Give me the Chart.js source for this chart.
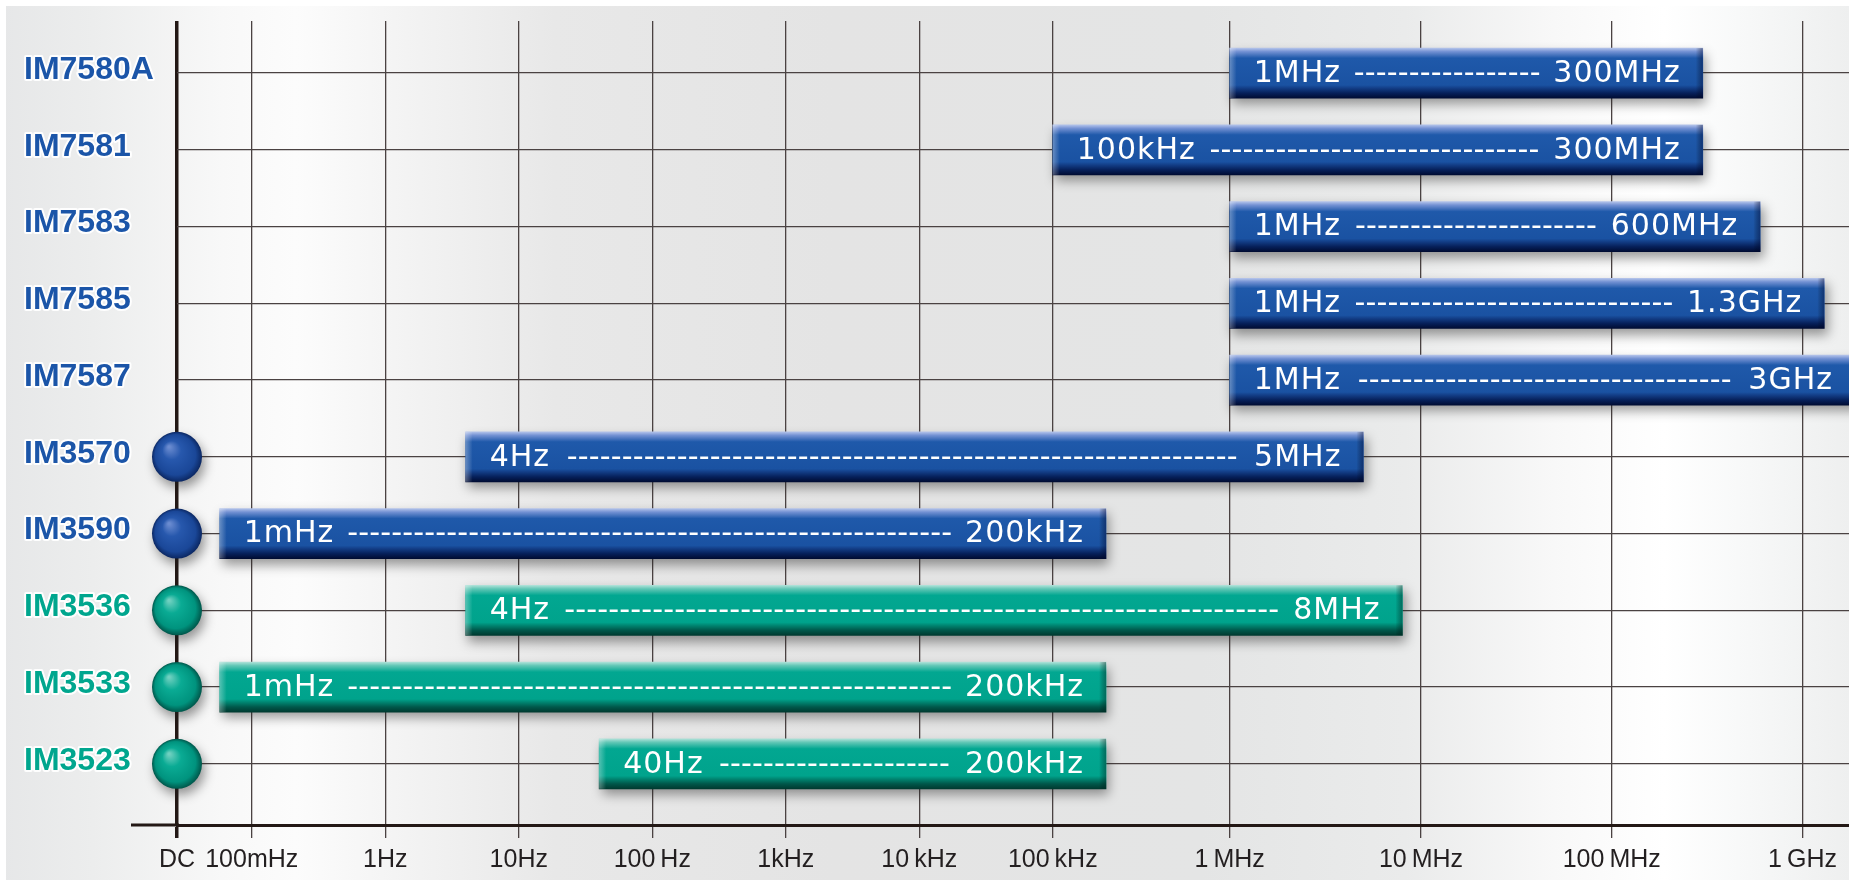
<!DOCTYPE html>
<html>
<head>
<meta charset="utf-8">
<title>Measurement frequency ranges</title>
<style>
  html, body { margin: 0; padding: 0; background: #ffffff; overflow: hidden; }
  #wrap { width: 1849px; height: 880px; }
  canvas { display: block; }
</style>
<script src="https://cdn.jsdelivr.net/npm/chart.js@4.4.1/dist/chart.umd.min.js"></script>
</head>
<body>
<div id="wrap"><canvas id="chart" width="1849" height="880"></canvas></div>
<script>
// ---- Instruments and their measurement frequency ranges ----
const models      = ['IM7580A', 'IM7581', 'IM7583', 'IM7585', 'IM7587', 'IM3570', 'IM3590', 'IM3536', 'IM3533', 'IM3523'];
const lowFreqHz   = [1e6, 1e5, 1e6, 1e6, 1e6, 4, 1e-3, 4, 1e-3, 40];
const highFreqHz  = [300e6, 300e6, 600e6, 1.3e9, 3e9, 5e6, 200e3, 8e6, 200e3, 200e3];
const lowLabels   = ['1MHz', '100kHz', '1MHz', '1MHz', '1MHz', '4Hz', '1mHz', '4Hz', '1mHz', '40Hz'];
const highLabels  = ['300MHz', '300MHz', '600MHz', '1.3GHz', '3GHz', '5MHz', '200kHz', '8MHz', '200kHz', '200kHz'];
const productLine = ['analyzer', 'analyzer', 'analyzer', 'analyzer', 'analyzer', 'analyzer', 'analyzer', 'lcr', 'lcr', 'lcr'];
const dcCapable   = [false, false, false, false, false, true, true, true, true, true];

// ---- Frequency axis ticks ----
const tickLabels  = ['DC', '100mHz', '1Hz', '10Hz', '100\u2009Hz', '1kHz', '10\u2009kHz', '100\u2009kHz', '1\u2009MHz', '10\u2009MHz', '100\u2009MHz', '1\u2009GHz'];
const tickFreqHz  = [0, 0.1, 1, 10, 100, 1e3, 1e4, 1e5, 1e6, 1e7, 1e8, 1e9];

// ---- Layout ----
const W = 1849, H = 880;
const PAD_LEFT = 24, PLOT_LEFT = 177, PLOT_TOP = 21, PLOT_BOTTOM = 825;
const AXIS_LINE_START = 131;
const BAR_THICKNESS = 50;
const DOT_RADIUS = 25;
const ROW_MIN = -0.679, ROW_MAX = 9.797;
const X_MAX = 12.524;
// Broken log axis: [frequency, axis position]; decades above 100 kHz are drawn wider,
// and everything below 100 mHz is squeezed next to DC.
const AXIS_ANCHORS = [
  [1e-3, 0.32], [0.1, 0.56], [1, 1.56], [10, 2.56], [100, 3.56], [1e3, 4.56],
  [1e4, 5.56], [1e5, 6.56], [1e6, 7.885], [1e7, 9.318], [1e8, 10.747], [1e9, 12.176]
];

const GRID_COLOR = '#4a4242';
const AXIS_COLOR = '#231815';
const LABEL_FONT = '400 30px "DejaVu Sans", Roboto, sans-serif';

const PALETTE = {
  analyzer: {
    text: '#1b55a8',
    base: '#1b55a6',
    stops: [[0, '#b3c3ea'], [0.07, '#7391d3'], [0.2, '#1f59aa'], [0.74, '#1a52a2'], [0.8, '#133e87'], [0.9, '#06205a'], [1, '#000c33']],
    dot: [[0, '#6a8bd0'], [0.35, '#2758ad'], [0.8, '#1a4798'], [1, '#0b2762']],
    edgeDark: 'rgba(0, 8, 50, 0.45)'
  },
  lcr: {
    text: '#00a68e',
    base: '#00a58f',
    stops: [[0, '#aee1d8'], [0.07, '#62c7b6'], [0.2, '#02a791'], [0.74, '#00a38c'], [0.8, '#008672'], [0.9, '#00574a'], [1, '#003a30']],
    dot: [[0, '#6fd0c0'], [0.35, '#0aab94'], [0.8, '#00937e'], [1, '#00564a']],
    edgeDark: 'rgba(0, 40, 32, 0.45)'
  }
};

function freqToAxis(f) {
  if (f <= 0) return 0;
  const lf = Math.log10(f);
  const a = AXIS_ANCHORS;
  let i = 0;
  while (i < a.length - 2 && lf > Math.log10(a[i + 1][0])) i++;
  const l0 = Math.log10(a[i][0]), l1 = Math.log10(a[i + 1][0]);
  return a[i][1] + (lf - l0) / (l1 - l0) * (a[i + 1][1] - a[i][1]);
}

function rowsOf(line) {
  return models.map((_, i) => i).filter(i => productLine[i] === line);
}

function barData(line) {
  return rowsOf(line).map(i => ({ y: i, x: [freqToAxis(lowFreqHz[i]), freqToAxis(highFreqHz[i])], row: i }));
}

function dcData() {
  return models.map((_, i) => i).filter(i => dcCapable[i]).map(i => ({ x: freqToAxis(0), y: i, row: i }));
}

function barFill(line) {
  return (c) => {
    const pal = PALETTE[line];
    if (c.type !== 'data' || !c.raw) return pal.base;
    const y = c.chart.scales.y.getPixelForValue(c.raw.y);
    if (!isFinite(y)) return pal.base;
    const g = c.chart.ctx.createLinearGradient(0, y - BAR_THICKNESS / 2, 0, y + BAR_THICKNESS / 2);
    pal.stops.forEach(([p, col]) => g.addColorStop(p, col));
    return g;
  };
}

function dotFill(c) {
  if (c.type !== 'data' || !c.raw) return PALETTE.analyzer.base;
  const pal = PALETTE[productLine[c.raw.row]];
  const cx = c.chart.scales.x.getPixelForValue(c.raw.x);
  const cy = c.chart.scales.y.getPixelForValue(c.raw.y);
  if (!isFinite(cx) || !isFinite(cy)) return pal.base;
  const g = c.chart.ctx.createRadialGradient(cx - 8, cy - 10, 1, cx, cy, DOT_RADIUS);
  pal.dot.forEach(([p, col]) => g.addColorStop(p, col));
  return g;
}

// Panel background with soft vertical light bands
const backgroundPlugin = {
  id: 'panelBackground',
  beforeDraw(chart) {
    const ctx = chart.ctx;
    ctx.save();
    ctx.fillStyle = '#ffffff';
    ctx.fillRect(0, 0, W, H);
    const g = ctx.createLinearGradient(0, 0, W, 0);
    [[0, '#e6e7e8'], [0.05, '#eceded'], [0.12, '#f8f8f8'], [0.16, '#fcfcfc'], [0.22, '#f3f3f3'],
     [0.3, '#e8e8e8'], [0.45, '#e4e4e4'], [0.65, '#e4e5e5'], [0.76, '#eaebeb'], [0.84, '#f8f8f8'],
     [0.9, '#ffffff'], [0.94, '#f8f9f9'], [1, '#eeefef']].forEach(([p, col]) => g.addColorStop(p, col));
    ctx.fillStyle = g;
    ctx.fillRect(6, 6, W - 6, H - 6);
    ctx.restore();
    // rounded joins keep the white halo around the model names smooth
    ctx.lineJoin = 'round';
    ctx.miterLimit = 2;
  }
};

// The frequency axis line continues a little to the left of DC
const axisLinePlugin = {
  id: 'axisLineLead',
  beforeDatasetsDraw(chart) {
    const ctx = chart.ctx;
    const y = chart.scales.x.top;
    ctx.save();
    ctx.strokeStyle = AXIS_COLOR;
    ctx.lineWidth = 3;
    ctx.beginPath();
    ctx.moveTo(AXIS_LINE_START, y);
    ctx.lineTo(chart.chartArea.left + 2, y);
    ctx.stroke();
    ctx.restore();
  }
};

// Drop shadows under bars and DC dots, bevelled bar edges
const shadingPlugin = {
  id: 'barShading',
  beforeDatasetDraw(chart) {
    const ctx = chart.ctx;
    ctx.save();
    ctx.shadowColor = 'rgba(30, 30, 30, 0.45)';
    ctx.shadowBlur = 11;
    ctx.shadowOffsetX = 3;
    ctx.shadowOffsetY = 6;
  },
  afterDatasetDraw(chart, args) {
    const ctx = chart.ctx;
    ctx.restore();
    const ds = chart.data.datasets[args.index];
    if (ds.type === 'scatter') return;
    const pal = PALETTE[ds.line];
    const area = chart.chartArea;
    ctx.save();
    ctx.beginPath();
    ctx.rect(area.left, area.top, area.right - area.left, area.bottom - area.top);
    ctx.clip();
    args.meta.data.forEach(el => {
      const { x, y, base, height } = el.getProps(['x', 'y', 'base', 'height'], true);
      const left = Math.min(x, base), right = Math.max(x, base);
      const top = y - height / 2;
      const gl = ctx.createLinearGradient(left, 0, left + 7, 0);
      gl.addColorStop(0, 'rgba(255,255,255,0.32)');
      gl.addColorStop(1, 'rgba(255,255,255,0)');
      ctx.fillStyle = gl;
      ctx.fillRect(left, top, 7, height);
      const gr = ctx.createLinearGradient(right - 7, 0, right, 0);
      gr.addColorStop(0, 'rgba(0,0,0,0)');
      gr.addColorStop(1, pal.edgeDark);
      ctx.fillStyle = gr;
      ctx.fillRect(right - 7, top, 7, height);
    });
    ctx.restore();
  }
};

// Range text written inside each bar: "low ------ high"
const rangeLabelPlugin = {
  id: 'rangeLabels',
  afterDatasetsDraw(chart) {
    const ctx = chart.ctx;
    const area = chart.chartArea;
    ctx.save();
    ctx.font = LABEL_FONT;
    ctx.fillStyle = '#ffffff';
    ctx.textBaseline = 'middle';
    chart.data.datasets.forEach((ds, di) => {
      if (ds.type === 'scatter') return;
      const meta = chart.getDatasetMeta(di);
      meta.data.forEach((el, j) => {
        const row = ds.data[j].row;
        const { x, y, base } = el.getProps(['x', 'y', 'base'], true);
        const left = Math.min(x, base);
        const right = Math.min(Math.max(x, base), area.right);
        const ty = y + 1;
        const lx = left + 24;
        const rx = right - (right >= area.right ? 16 : 22);
        ctx.letterSpacing = '1px';
        ctx.textAlign = 'left';
        ctx.fillText(lowLabels[row], lx, ty);
        ctx.textAlign = 'right';
        ctx.fillText(highLabels[row], rx, ty);
        const gap = 12;
        const from = lx + ctx.measureText(lowLabels[row]).width + gap;
        const to = rx - ctx.measureText(highLabels[row]).width - gap;
        ctx.letterSpacing = '0px';
        const dashW = ctx.measureText('-').width;
        const pitch = 11;
        const n = Math.floor((to - from + (pitch - dashW)) / pitch);
        if (n > 0) {
          ctx.textAlign = 'left';
          const span = n * pitch - (pitch - dashW);
          let dx = from + (to - from - span) / 2;
          for (let k = 0; k < n; k++) {
            ctx.fillText('-', dx, ty);
            dx += pitch;
          }
        }
      });
    });
    ctx.restore();
  }
};

const chart = new Chart(document.getElementById('chart'), {
  type: 'bar',
  data: {
    datasets: [
      {
        label: 'Impedance analyzers',
        line: 'analyzer',
        indexAxis: 'y',
        data: barData('analyzer'),
        backgroundColor: barFill('analyzer'),
        borderWidth: 0,
        borderSkipped: false,
        barThickness: BAR_THICKNESS,
        grouped: false
      },
      {
        label: 'LCR meters',
        line: 'lcr',
        indexAxis: 'y',
        data: barData('lcr'),
        backgroundColor: barFill('lcr'),
        borderWidth: 0,
        borderSkipped: false,
        barThickness: BAR_THICKNESS,
        grouped: false
      },
      {
        type: 'scatter',
        label: 'DC',
        data: dcData(),
        backgroundColor: dotFill,
        borderWidth: 0,
        pointStyle: 'circle',
        pointRadius: DOT_RADIUS,
        pointHoverRadius: DOT_RADIUS,
        clip: false
      }
    ]
  },
  options: {
    indexAxis: 'y',
    responsive: false,
    devicePixelRatio: 1,
    animation: false,
    layout: { autoPadding: false, padding: { left: PAD_LEFT, top: PLOT_TOP, right: 0, bottom: 0 } },
    plugins: { legend: { display: false }, tooltip: { enabled: false } },
    scales: {
      x: {
        type: 'linear',
        position: 'bottom',
        min: 0,
        max: X_MAX,
        offset: false,
        afterBuildTicks: (scale) => { scale.ticks = tickFreqHz.map(f => ({ value: freqToAxis(f) })); },
        afterFit: (scale) => {
          scale.height = H - PLOT_BOTTOM;
          scale.paddingLeft = 0; scale.paddingRight = 0;
        },
        grid: {
          offset: false,
          color: (c) => c.index === 0 ? AXIS_COLOR : GRID_COLOR,
          lineWidth: (c) => c.index === 0 ? 3.5 : 1.3,
          drawTicks: true,
          tickLength: 13
        },
        border: { display: true, color: AXIS_COLOR, width: 3 },
        ticks: {
          autoSkip: false,
          maxRotation: 0,
          minRotation: 0,
          padding: 7,
          color: '#231f20',
          font: { family: '"Liberation Sans", Arial, sans-serif', size: 25 },
          callback: (value, index) => tickLabels[index]
        }
      },
      y: {
        type: 'linear',
        position: 'left',
        reverse: true,
        min: ROW_MIN,
        max: ROW_MAX,
        offset: false,
        afterBuildTicks: (scale) => { scale.ticks = models.map((_, i) => ({ value: i })); },
        afterFit: (scale) => {
          scale.width = PLOT_LEFT - PAD_LEFT;
          scale.paddingTop = 0; scale.paddingBottom = 0;
        },
        grid: {
          offset: false,
          color: GRID_COLOR,
          lineWidth: 1.3,
          drawTicks: false
        },
        border: { display: false },
        ticks: {
          autoSkip: false,
          crossAlign: 'far',
          padding: 0,
          labelOffset: -3,
          color: (c) => PALETTE[productLine[c.index]] ? PALETTE[productLine[c.index]].text : '#1b55a8',
          textStrokeColor: 'rgba(255,255,255,0.95)',
          textStrokeWidth: 4,
          font: { family: '"Liberation Sans", Arial, sans-serif', size: 32, weight: 'bold' },
          callback: (value) => models[value] !== undefined ? models[value] : ''
        }
      }
    }
  },
  plugins: [backgroundPlugin, axisLinePlugin, shadingPlugin, rangeLabelPlugin]
});
</script>
</body>
</html>
